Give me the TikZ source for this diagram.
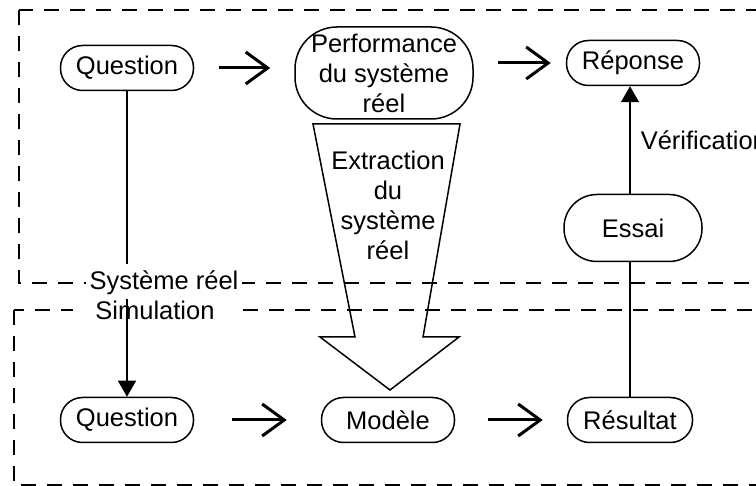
\documentclass[tikz,border=0pt]{standalone}
\usepackage{fontspec}
\setmainfont{Liberation Sans}
\usetikzlibrary{arrows.meta}
\tikzstyle{line} = [draw, line width=1.5pt]

\begin{document}
\begin{tikzpicture}[x=1pt, y=-1pt,
   etape/.style={rectangle, draw, line width=1.5pt, rounded corners=22pt, minimum width=133pt, minimum height=45pt, inner sep=0pt, font=\fontsize{25.5}{30}\selectfont},
   fleche/.style={line width=3pt, -{Straight Barb[length=22pt,width=32pt]}},
   pointe/.style={line width=1.5pt, -{Triangle[length=16pt,width=18pt]}},
   zone/.style={line width=2pt, dash pattern=on 15pt off 11pt},
   etiquette/.style={fill=white, inner ysep=1pt, font=\fontsize{25.5}{30}\selectfont}]
\fill[white] (0,0) rectangle (756,486);
\useasboundingbox (0,0) rectangle (756,486);
\clip (0,0) rectangle (756,486);

% les deux zones
\draw[zone] (19,10) rectangle (780,283);
\draw[zone] (14,310) rectangle (780,485);

\node[etiquette] (lreel) at (164,283) {Système réel};
\node[etiquette, inner xsep=22pt] (lsim) at (155,310) {Simulation};

\node[etape] (qr) at (127,68) {Question};

\node[etape, minimum width=178pt, minimum height=92pt, rounded corners=42pt, align=center] (perf) at (384,73) {Performance\\du système\\réel};

\node[etape] (rep) at (633,63) {Réponse};

\node[etape, minimum width=138pt, minimum height=67pt, rounded corners=33pt] (essai) at (633,228) {Essai};

\node[etape, minimum width=125pt] (res) at (630,420) {Résultat};

\node[etape] (mod) at (388,420) {Modèle};

\node[etape] (qs) at (127,420) {Question};

% grande fleche
\draw[line] (313,124) -- (460,124) -- (423,337) -- (459,337) -- (390,390) -- (320,337) -- (355,337) -- cycle;
\node[align=center, font=\fontsize{25.5}{30}\selectfont] (extr) at (388,205) {Extraction\\du\\système\\réel};

\path
	(qr) edge[line, shorten >=6pt] (lreel.north -| qr)
	(lsim.north -| qs) edge[pointe] (qs.north)
	(qr.east) edge[fleche, shorten <=25pt, shorten >=24pt] (qr.east -| perf.west)
	(perf.east |- rep.west) edge[fleche, shorten <=24pt, shorten >=15pt] (rep.west)
	(qs.east) edge[fleche, shorten <=38pt, shorten >=34pt] (mod.west)
	(mod.east) edge[fleche, shorten <=33pt, shorten >=24pt] (res.west)
	(res.north) edge[line] (essai.south -| res)
	(essai.north -| res) edge[pointe] node[right, inner xsep=10pt, font=\fontsize{25.5}{30}\selectfont] {Vérification} (rep.south -| res)
;

\end{tikzpicture}
\end{document}
